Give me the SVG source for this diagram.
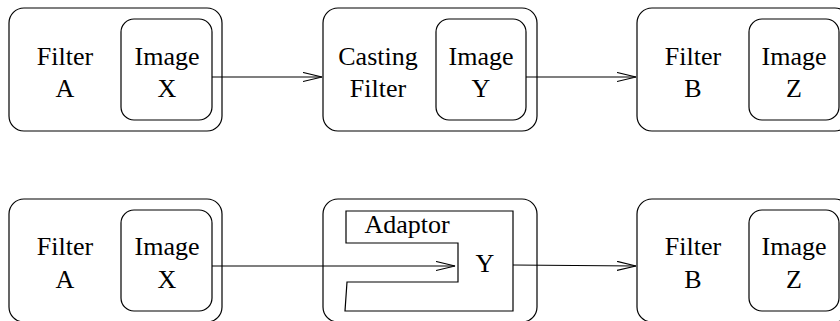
<svg xmlns="http://www.w3.org/2000/svg" width="840" height="321" viewBox="0 0 840 321">
<style>
.box{fill:none;stroke:#000;stroke-width:1.2}
.t{font-family:"Liberation Serif","Times New Roman",serif;font-size:26px;fill:#000;text-anchor:middle}
.c{fill:none;stroke:#000;stroke-width:1.2}
</style>
<defs>
<marker id="ah" markerUnits="userSpaceOnUse" markerWidth="22" markerHeight="12" refX="19" refY="5" orient="auto">
<path d="M0,0.5 L19,5 L0,9.5" fill="none" stroke="#000" stroke-width="1.2"/>
</marker>
</defs>
<rect width="840" height="321" fill="#fff"/>
<g id="filterA1">
<rect class="box" x="9" y="8" width="213" height="123" rx="15"/>
<text class="t" x="65" y="65">Filter</text>
<text class="t" x="65" y="97">A</text>
</g>
<g id="imageX1">
<rect class="box" x="121" y="19" width="91" height="101" rx="13"/>
<text class="t" x="167" y="65">Image</text>
<text class="t" x="167" y="97">X</text>
</g>
<g id="castingFilter">
<rect class="box" x="323" y="8" width="214" height="123" rx="15"/>
<text class="t" x="378" y="65">Casting</text>
<text class="t" x="378" y="97">Filter</text>
</g>
<g id="imageY1">
<rect class="box" x="436" y="19" width="90" height="101" rx="13"/>
<text class="t" x="481" y="65">Image</text>
<text class="t" x="481" y="97">Y</text>
</g>
<g id="filterB1">
<rect class="box" x="637" y="8" width="213" height="123" rx="15"/>
<text class="t" x="693" y="65">Filter</text>
<text class="t" x="693" y="97">B</text>
</g>
<g id="imageZ1">
<rect class="box" x="749" y="19" width="90" height="101" rx="13"/>
<text class="t" x="794" y="65">Image</text>
<text class="t" x="794" y="97">Z</text>
</g>
<g id="filterA2">
<rect class="box" x="9" y="199" width="213" height="123" rx="15"/>
<text class="t" x="65" y="255">Filter</text>
<text class="t" x="65" y="288">A</text>
</g>
<g id="imageX2">
<rect class="box" x="121" y="210" width="91" height="101" rx="13"/>
<text class="t" x="167" y="255">Image</text>
<text class="t" x="167" y="288">X</text>
</g>
<g id="adaptorBox">
<rect class="box" x="323" y="199" width="214" height="123" rx="15"/>
</g>
<g id="adaptor">
<path class="box" d="M346,211 L513,211 L513,311 L345,311 L347,282 L458,282 L458,243 L346,243 Z"/>
<text class="t" x="407" y="233">Adaptor</text>
<text class="t" x="485" y="272">Y</text>
</g>
<g id="filterB2">
<rect class="box" x="637" y="199" width="213" height="123" rx="15"/>
<text class="t" x="693" y="255">Filter</text>
<text class="t" x="693" y="288">B</text>
</g>
<g id="imageZ2">
<rect class="box" x="749" y="210" width="90" height="101" rx="13"/>
<text class="t" x="794" y="255">Image</text>
<text class="t" x="794" y="288">Z</text>
</g>
<g id="connectors">
<line class="c" x1="212" y1="77" x2="322" y2="77" marker-end="url(#ah)"/>
<line class="c" x1="526" y1="77" x2="636" y2="77" marker-end="url(#ah)"/>
<line class="c" x1="212" y1="266" x2="455" y2="266" marker-end="url(#ah)"/>
<line class="c" x1="513" y1="265" x2="636" y2="266" marker-end="url(#ah)"/>
</g>
</svg>
